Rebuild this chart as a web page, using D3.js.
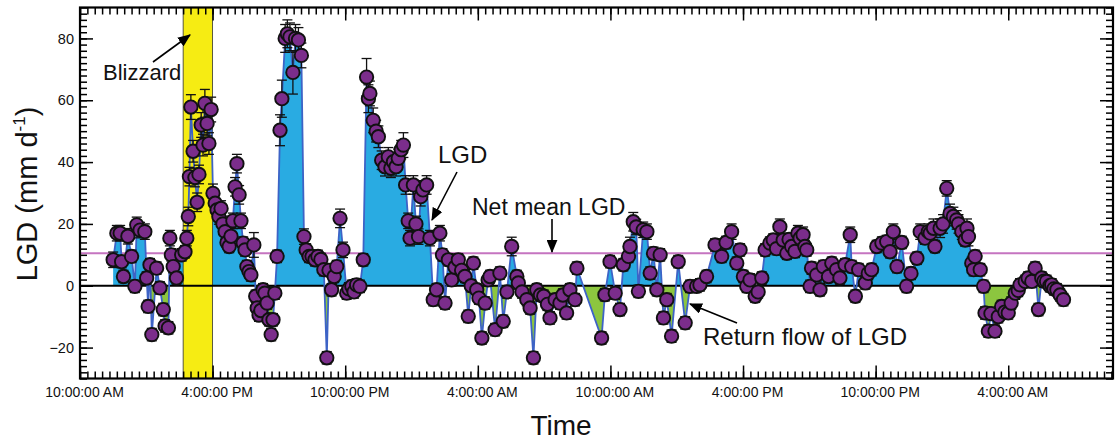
<!DOCTYPE html>
<meta charset="utf-8">
<style>

body {
  margin: 0;
  background: #fff;
}

text {
  font-family: "Liberation Sans", Arial, sans-serif;
  fill: #111;
}

</style>
<svg width="1120" height="445"></svg>
<script src="https://d3js.org/d3.v7.min.js"></script>
<script>

// minutes after 10:00:00 AM on the first day
var minutes = [
  90,100,109,113,118,130,140,149,154,163,176,181,185,190,195,208,217,226,231,240,244,248,253,262,276,285,290,294,
  297,301,307,312,318,323,329,334,339,345,350,356,
  361,367,372,377,383,388,394,399,405,410,415,421,426,432,437,443,448,453,459,464,472,477,481,486,491,497,502,508,513,519,524,529,535,
  543,548,557,563,570,578,585,593,601,608,614,622,630,638,646,654,662,670,676,683,690,697,706,714,724,730,738,744,751,
  760,769,778,783,787,796,804,810,819,828,837,844,851,858,864,872,878,884,891,896,905,912,919,925,931,941,950,959,968,977,
  984,991,1000,1009,1018,1027,1036,1045,1054,1062,1068,1077,1083,1091,1100,1108,1113,
  1127,1140,1149,1159,1172,1186,1190,1200,1213,1222,1231,1240,1250,1259,1269,1276,1290,1303,1311,1321,
  1330,1344,1349,1416,1425,1439,1453,1466,1475,1489,1493,1502,1510,1516,1529,1539,1548,1557,1566,1575,1584,1593,1606,1624,1643,1656,
  1674,1683,1701,1724,1742,1754,1769,1783,1792,1801,1810,1819,1833,1841,1851,1860,1873,1882,1891,1900,
  1909,1919,1925,1932,1941,1949,1955,1963,1968,1973,1982,1986,2000,2009,2018,2032,2041,2054,2063,2077,
  2091,2095,2105,2114,2132,2140,2149,2163,2177,2190,2199,2208,2218,2231,
  2244,2256,2272,2281,2294,2303,2308,2317,2321,2335,2343,2353,2362,2371,2380,2385,2394,2403,2408,2412,
  2421,2426,2430,2444,2453,2457,2466,2473,2484,2493,2502,2511,2520,2528,2539,2547,2552,2566,2574,2584,
  2593,2602,2611,2617,2624,2633,2638,2644,2652,2661,2670
];

// LGD, mm d-1
var lgd = [
  8.4,17,17,7.8,3,16,9.5,-0.2,19.7,18,17.5,2.5,-6.7,6.8,-15.8,5.7,-0.7,-7.7,-13,-13.6,15.4,10,6.2,2.5,10,11,15.4,22.4,
  35.3,57.8,43.5,35,27,36,52,45.5,59,52.5,46,57,
  29.9,26.7,24.5,22.4,25,20,17.5,14,12.7,16,21,32,39.5,29.4,21,13.8,11.6,6.2,4.6,3.5,13.2,-3.4,-7.2,-9.5,-8,-1.3,-2.4,-5.6,-11,-15.8,-11,-2.4,9.5,
  50.3,60.5,80,81.5,80.5,69,80,79.5,74.5,15.9,11.6,9.5,9.5,8.4,9.5,8.5,5.2,-23.3,5,-1.3,3,6.2,21.8,11.6,-2.4,-1,-0.2,-2,0.3,
  -0.2,8.4,67.5,60.5,62.2,53.5,50,48.2,40.6,38.5,41.7,38,40.1,38.5,41.2,44,45.5,32.6,21,15.4,32.6,20,15.9,28.8,31,32.6,15.4,-4.5,-1.3,17,
  10,-5.6,8.4,1.9,6,8.4,5,3,-9.9,0,7.3,-1.3,-4,-16.9,-5.6,1.9,3,
  -14.2,4.1,-11.5,-2,12.7,3,0.9,-2,-4.5,-7.2,-23.3,-1.3,-3,-3.4,-6,-10.4,-4.5,-5.6,-3,-8.8,
  -1.3,-4.5,5.7,-16.9,-2.9,7.8,-2.4,-7.7,6.8,9.5,12.7,20.7,19,-1.8,18.1,17.5,4.1,10.5,-1.3,10,-10.4,-4.5,-16.3,7.8,-12,-0.2,
  -0.2,0.3,3,13.2,9.5,14,17.5,7.3,11.6,3,-0.2,1.9,-3.4,-2,2.5,11.6,13.8,14.8,12,19.1,
  14.8,10.5,15,12.7,11.1,17,15.4,16.5,12.7,11.6,-0.2,5.7,3.5,-1.3,6.2,3,7.3,5.2,2.5,6.8,
  16.5,6.2,-3.4,5.2,0.9,4,5.2,12.7,13.8,14.3,11,17.5,6.2,14,
  -0.2,4,8.9,17.5,15.4,17.5,17,18.6,12.7,18.6,20,31.5,23.4,22.4,21.3,20,17.5,14.8,18.6,15.9,
  7.3,5.2,9.5,5.2,-0.2,-8.8,-14.7,-9,-14.7,-10,-6.7,-8.5,-8.8,-5.6,-2.4,-1.5,0.3,1.4,2.5,1.4,
  5.7,-7.7,2.5,1.5,1.4,0,0.3,-1,-1.3,-3,-4.5
];

// error bar half-length
var err = [
  2.5,2.5,2.5,2,2,2.5,2,2,2.5,2.5,2.5,2,2,2,2,2,2,2,2,2,2.5,2,2,2,2,2,2.5,3,
  3,4,3.5,3,3,3,4,3.5,4.5,4,3.5,4,
  3,3,2.5,2.5,2.5,2.5,2.5,2,2,2.5,2.5,3,3,3,2.5,2,2,2,2,2,4,2,2,2,2,2,2,2,2,2,2,2,2,
  5,6,4.5,4.5,4.5,7,4.5,4,4,2.5,2,2,2,2,2,2,2,2,2,2,2,2,3,2.5,2,2,2,2,2,
  2,2,6,4.5,4,4,3.5,3.5,3,3,3,3,3,3,3,3,4,3,2.5,2.5,3,2.5,2.5,3,3,3,2.5,2,2,2.5,
  2,2,2,2,2,2,2,2,2,2,2,2,2,2,2,2,2,
  2,2,2,2,3,2,2,2,2,2,2,2,2,2,2,2,2,2,2,2,
  2,2,2,2,2,2,2,2,2,2,3,3,2.5,2,2.5,2.5,2,2,2,2,2,2,2,2,2,2,
  2,2,2,2,2,2,2.5,2,2,2,2,2,2,2,2,2,2,2,2,2.5,
  2,2,2,2,2,2.5,2,2.5,2,2,2,2,2,2,2,2,2,2,2,2,
  2.5,2,2,2,2,2,2,2,2,2,2,2.5,2,2,
  2,2,2,2.5,2,2.5,2,3,2,3,3,2.5,3,3,3,3,2.5,2,3,3,
  2,2,2,2,2,2,2,2,2,2,2,2,2,2,2,2,2,2,2,2,
  2,2,2,2,2,2,2,2,2,2,2
];

var netMean = 10.5;
var blizzard = [280, 360];          // minutes after start
var yTicks = [-20, 0, 20, 40, 60, 80];
var xTickHours = [0, 6, 12, 18, 24, 30, 36, 42];

var t0 = new Date(2016, 0, 22, 10, 0, 0);
function at(min) { return new Date(+t0 + min * 60000); }

var pLeft = 80, pRight = 1113, pTop = 7.5, pBottom = 378.5;

var x = d3.scaleTime()
    .domain([t0, at(46.74 * 60)])
    .range([pLeft, pRight]);

var y = d3.scaleLinear()
    .domain([-30, 90])
    .range([pBottom, pTop]);

var points = minutes.map(function(m, i) {
  return {t: at(m), v: lgd[i], e: err[i] || 2};
});

var svg = d3.select("svg");

var defs = svg.append("defs");
defs.append("clipPath").attr("id", "pos")
  .append("rect").attr("x", pLeft).attr("y", pTop).attr("width", pRight - pLeft).attr("height", y(0) - pTop);
defs.append("clipPath").attr("id", "neg")
  .append("rect").attr("x", pLeft).attr("y", y(0)).attr("width", pRight - pLeft).attr("height", pBottom - y(0));
defs.append("marker")
    .attr("id", "head")
    .attr("viewBox", "0 0 12 10")
    .attr("refX", 11).attr("refY", 5)
    .attr("markerWidth", 13).attr("markerHeight", 11)
    .attr("markerUnits", "userSpaceOnUse")
    .attr("orient", "auto")
  .append("path")
    .attr("d", "M0,0L12,5L0,10z")
    .attr("fill", "#000");

// net mean line (under the fill)
svg.append("line")
    .attr("x1", pLeft).attr("x2", pRight)
    .attr("y1", y(netMean)).attr("y2", y(netMean))
    .attr("stroke", "#c574c0").attr("stroke-width", 2);

var area = d3.area()
    .x(function(d) { return x(d.t); })
    .y0(y(0))
    .y1(function(d) { return y(d.v); });

svg.append("path").datum(points)
    .attr("clip-path", "url(#pos)")
    .attr("fill", "#29abe2")
    .attr("d", area);

svg.append("path").datum(points)
    .attr("clip-path", "url(#neg)")
    .attr("fill", "#8cc63f")
    .attr("d", area);

// blizzard band
svg.append("rect")
    .attr("x", x(at(blizzard[0])))
    .attr("y", pTop)
    .attr("width", x(at(blizzard[1])) - x(at(blizzard[0])))
    .attr("height", pBottom - pTop)
    .attr("fill", "#f6ec13")
    .attr("stroke", "#333")
    .attr("stroke-width", 0.8);

// zero line
svg.append("line")
    .attr("x1", pLeft).attr("x2", pRight)
    .attr("y1", y(0)).attr("y2", y(0))
    .attr("stroke", "#000").attr("stroke-width", 2);

svg.append("path").datum(points)
    .attr("fill", "none")
    .attr("stroke", "#3d63c6")
    .attr("stroke-width", 1.8)
    .attr("d", d3.line().x(function(d) { return x(d.t); }).y(function(d) { return y(d.v); }));

// error bars
var eb = svg.append("g").attr("stroke", "#111").attr("stroke-width", 1.3);
points.forEach(function(d) {
  var cx = x(d.t), hi = y(d.v + d.e), lo = y(d.v - d.e);
  eb.append("line").attr("x1", cx).attr("x2", cx).attr("y1", hi).attr("y2", lo);
  eb.append("line").attr("x1", cx - 5).attr("x2", cx + 5).attr("y1", hi).attr("y2", hi);
  eb.append("line").attr("x1", cx - 5).attr("x2", cx + 5).attr("y1", lo).attr("y2", lo);
});

svg.append("g").selectAll("circle")
  .data(points)
  .enter().append("circle")
    .attr("cx", function(d) { return x(d.t); })
    .attr("cy", function(d) { return y(d.v); })
    .attr("r", 6.7)
    .attr("fill", "#7b2d8b")
    .attr("stroke", "#111")
    .attr("stroke-width", 1.9);

// axes, ticks on all four sides pointing in
var majorT = xTickHours.map(function(h) { return at(h * 60); });
var minorT = d3.range(0, 46.74 * 60, 20).map(at);
var minorY = d3.range(-30, 91, 2);
var fmt = d3.timeFormat("%-I:%M:%S %p");

function style(g) {
  g.select(".domain").remove();
  g.selectAll(".tick line").attr("stroke", "#000").attr("stroke-width", 1.5);
  g.selectAll("text").attr("font-family", "Liberation Sans, Arial, sans-serif").attr("fill", "#111");
}

svg.append("g").attr("transform", "translate(0," + pBottom + ")")
    .call(d3.axisBottom(x).tickValues(minorT).tickSize(-7).tickFormat("")).call(style);
svg.append("g").attr("transform", "translate(0," + pBottom + ")")
    .call(d3.axisBottom(x).tickValues(majorT).tickSize(-13).tickPadding(9).tickFormat(fmt))
    .call(style)
    .selectAll("text").attr("font-size", 14).attr("dx", 4);
svg.append("g").attr("transform", "translate(0," + pTop + ")")
    .call(d3.axisTop(x).tickValues(minorT).tickSize(-7).tickFormat("")).call(style);
svg.append("g").attr("transform", "translate(0," + pTop + ")")
    .call(d3.axisTop(x).tickValues(majorT).tickSize(-13).tickFormat("")).call(style);

svg.append("g").attr("transform", "translate(" + pLeft + ",0)")
    .call(d3.axisLeft(y).tickValues(minorY).tickSize(-7).tickFormat("")).call(style);
svg.append("g").attr("transform", "translate(" + pLeft + ",0)")
    .call(d3.axisLeft(y).tickValues(yTicks).tickSize(-13).tickPadding(6))
    .call(style)
    .selectAll("text").attr("font-size", 14.5);
svg.append("g").attr("transform", "translate(" + pRight + ",0)")
    .call(d3.axisRight(y).tickValues(minorY).tickSize(-7).tickFormat("")).call(style);
svg.append("g").attr("transform", "translate(" + pRight + ",0)")
    .call(d3.axisRight(y).tickValues(yTicks).tickSize(-13).tickFormat("")).call(style);

svg.append("rect")
    .attr("x", pLeft).attr("y", pTop)
    .attr("width", pRight - pLeft).attr("height", pBottom - pTop)
    .attr("fill", "none").attr("stroke", "#000").attr("stroke-width", 2.2);

// axis titles
svg.append("text")
    .attr("x", 561).attr("y", 435)
    .attr("text-anchor", "middle")
    .attr("font-size", 28)
    .text("Time");

var yt = svg.append("text")
    .attr("transform", "translate(37,194) rotate(-90)")
    .attr("text-anchor", "middle")
    .attr("font-size", 29);
yt.append("tspan").text("LGD (mm d");
yt.append("tspan").attr("font-size", 17).attr("dy", -12).text("-1");
yt.append("tspan").attr("dy", 12).text(")");

// annotations
function label(tx, ty, s, size) {
  svg.append("text").attr("x", tx).attr("y", ty).attr("font-size", size).text(s);
}
function arrow(x1, y1, x2, y2) {
  svg.append("line")
      .attr("x1", x1).attr("y1", y1).attr("x2", x2).attr("y2", y2)
      .attr("stroke", "#000").attr("stroke-width", 1.6)
      .attr("marker-end", "url(#head)");
}

label(103, 80, "Blizzard", 22);
arrow(153, 62, 190, 35);

label(438, 163, "LGD", 24);
arrow(457, 172, 432, 220);

label(472, 215, "Net mean LGD", 23);
arrow(552, 219, 552, 252);

label(703, 345, "Return flow of LGD", 24);
arrow(737, 323, 690, 304);

</script>
